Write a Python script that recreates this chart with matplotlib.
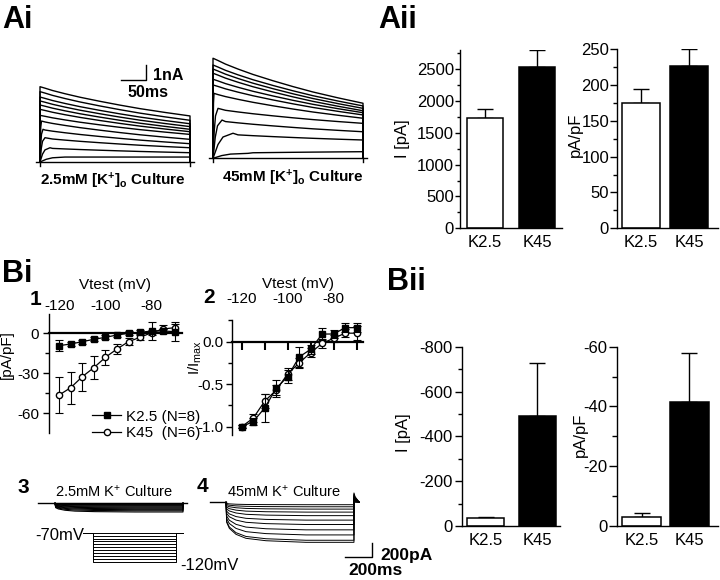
import matplotlib
matplotlib.use("Agg")
import matplotlib.pyplot as plt
from matplotlib.lines import Line2D
from matplotlib.ticker import MultipleLocator, FormatStrFormatter

plt.rcParams['font.family'] = ['Liberation Sans', 'DejaVu Sans']
plt.rcParams['mathtext.fontset'] = 'custom'
plt.rcParams['mathtext.rm'] = 'Liberation Sans'
plt.rcParams['mathtext.bf'] = 'Liberation Sans:bold'
plt.rcParams['mathtext.it'] = 'Liberation Sans:italic'
plt.rcParams['axes.unicode_minus'] = False
plt.rcParams['axes.linewidth'] = 1.0

W, H = 720, 580

# ---- Ai: outward K currents (nA), one entry per trace ----
ai_decay_t = [0, 10, 25, 50, 80, 120, 160, 200, 250, 300]
ai_decay_f = [1, 0.95, 0.87, 0.76, 0.64, 0.5, 0.37, 0.25, 0.12, 0]
rise_s = [0.25, 0.5, 1.0]
rise_f = [0.55, 0.85, 1.0]

k25_peak = [5.02, 4.69, 4.33, 4.07, 3.8, 3.51, 3.11, 2.73, 2.18, 1.62, 0.95, 0.33]
k25_end = [3.07, 2.78, 2.55, 2.36, 2.18, 2.02, 1.84, 1.51, 1.22, 0.95, 0.62, 0.33]
k25_tpeak = [0, 0, 0, 0, 0, 0, 0, 3, 6, 10, 20, 50]

k45_peak = [6.67, 6.22, 5.95, 5.67, 5.27, 4.89, 4.33, 3.33, 2.55, 1.67, 0.33]
k45_end = [3.67, 3.49, 3.33, 3.17, 3.04, 2.89, 2.67, 2.33, 1.77, 1.22, 0.44]
k45_tpeak = [0, 0, 0, 0, 0, 0, 2, 10, 18, 40, 70]

# ---- Aii: peak outward current ----
groups = ['K2.5', 'K45']
ai_current = [1726, 2536]
ai_current_err = [151, 262]
ai_density = [175.4, 227]
ai_density_err = [19.6, 23.4]

# ---- Bi: inward rectifier IV ----
vtest = [-120, -115, -110, -105, -100, -95, -90, -85, -80, -75, -70]
k25_dens = [-9.25, -8, -6.25, -4.5, -3, -1.25, 0, 0.75, 1.75, 1.75, 1.25]
k25_dens_err = [4, 1.5, 1.5, 1.5, 1.5, 1.5, 1.5, 1.5, 7, 1.5, 7]
k45_dens = [-46.25, -40.75, -32.5, -25.75, -18, -11.75, -6.25, -3, 0.5, 3.25, 4.25]
k45_dens_err = [13.75, 12, 10.6, 8.75, 5.75, 4, 2.5, 2, 2, 3, 3]

k25_norm = [-1.0, -0.94, -0.78, -0.55, -0.41, -0.18, -0.09, 0.09, 0.09, 0.165, 0.165]
k25_norm_err = [0.02, 0.04, 0.16, 0.1, 0.08, 0.12, 0.05, 0.07, 0.05, 0.05, 0.05]
k45_norm = [-1.0, -0.9, -0.7, -0.57, -0.38, -0.25, -0.13, -0.02, 0.04, 0.1, 0.1]
k45_norm_err = [0.02, 0.05, 0.08, 0.06, 0.075, 0.06, 0.05, 0.05, 0.04, 0.05, 0.08]

# ---- Bi 3/4: inward currents (pA) during hyperpolarising steps ----
pulse_ms = 960
kir_t = [0, 5, 25, 75, 150, 300, 600, 960]
kir_f = [0, 0.5, 0.65, 0.8, 0.9, 0.96, 1.0, 1.0]
k25_kir_amp = [0, 10, 20, 30, 42, 55, 68, 82, 96, 112, 130]
k45_kir_amp = [36, 67, 102, 147, 200, 267, 333, 413, 489, 569, 600]
k45_tail = [0, 15, 25, 35, 50, 65, 80, 95, 110, 125, 140]
step_mv = [-70, -75, -80, -85, -90, -95, -100, -105, -110, -115, -120]

# ---- Bii: inward current at -120 mV ----
bii_current = [-34, -492]
bii_current_err = [8, 237]
bii_density = [-3.1, -41.4]
bii_density_err = [1.1, 16.4]

fig = plt.figure(figsize=(7.2, 5.8), dpi=100)


def px_axes(x0, y0, x1, y1):
    return fig.add_axes([x0 / W, 1 - y1 / H, (x1 - x0) / W, (y1 - y0) / H])


def pulse_trace(peak, end, tp):
    t = [0.0] + [tp * s for s in rise_s]
    y = [0.0] + [peak * f for f in rise_f]
    for tk, fk in zip(ai_decay_t, ai_decay_f):
        if tk > tp:
            t.append(tk)
            y.append(end + (peak - end) * fk)
    t.append(300.0)
    y.append(0.0)
    return t, y


# Ai traces
for (x0, base, peaks, ends, tps) in [(40, 162, k25_peak, k25_end, k25_tpeak),
                                     (213, 158.3, k45_peak, k45_end, k45_tpeak)]:
    ax = px_axes(x0 - 10, 45, x0 + 160, 175)
    ax.set_xlim(-20, 320)
    ax.set_ylim((base - 175) / 15, (base - 45) / 15)
    ax.axis('off')
    ax.plot([-8, 308], [0, 0], color='black', lw=1.0)
    ax.plot([0, 0], [-0.25, 0], color='black', lw=1.0)
    ax.plot([300, 300], [-0.25, 0], color='black', lw=1.0)
    for p, e, tp in zip(peaks, ends, tps):
        t, y = pulse_trace(p, e, tp)
        ax.plot(t, y, color='black', lw=1.0)
    if x0 == 40:
        ax.plot([162, 212, 212], [5.47, 5.47, 6.47], color='black', lw=1.0)

# Aii and Bii bar charts
def bar_panel(box, vals, errs, ylim, major, minor, ylabel, lab_xy, width, xlim,
              inverted, tick_len, pad):
    ax = px_axes(*box)
    ax.bar([0, 1], vals, width=width, color=['white', 'black'], edgecolor='black',
           linewidth=1.1, zorder=2)
    if inverted:
        yerr = [errs, [0, 0]]
    else:
        yerr = [[0, 0], errs]
    ax.errorbar([0, 1], vals, yerr=yerr, fmt='none', ecolor='black', elinewidth=1.0,
                capsize=6, capthick=1.0, zorder=1)
    ax.set_xlim(*xlim)
    ax.set_ylim(*ylim)
    ax.yaxis.set_major_locator(MultipleLocator(major))
    ax.yaxis.set_minor_locator(MultipleLocator(minor))
    ax.set_xticks([0, 1])
    ax.set_xticklabels(groups)
    ax.spines['top'].set_visible(False)
    ax.spines['right'].set_visible(False)
    ax.tick_params(axis='x', length=0, labelsize=12, pad=5)
    ax.tick_params(axis='y', which='major', length=tick_len, width=1.0, labelsize=12, pad=pad)
    ax.tick_params(axis='y', which='minor', length=tick_len * 0.6, width=1.0)
    ax.set_ylabel(ylabel, fontsize=12, va='center')
    ax.yaxis.set_label_coords(*lab_xy)
    return ax


bar_panel((460, 50, 562, 228.3), ai_current, ai_current_err, (0, 2800), 500, 250,
          'I [pA]', (-0.56, 0.5), 0.7, (-0.48, 1.48), False, 3.8, 0.5)
bar_panel((616.7, 49.3, 718, 228.3), ai_density, ai_density_err, (0, 250), 50, 25,
          'pA/pF', (-0.41, 0.52), 0.8, (-0.5, 1.6), False, 5, 0.5)
bar_panel((461.7, 346.7, 560, 526), bii_current, bii_current_err, (0, -800), 200, 100,
          'I [pA]', (-0.587, 0.52), 0.72, (-0.47, 1.44), True, 4.8, 2)
bar_panel((616.7, 346.7, 718, 526), bii_density, bii_density_err, (0, -60), 20, 10,
          'pA/pF', (-0.36, 0.51), 0.82, (-0.52, 1.6), True, 5.5, 1)


# Bi IV plots
def iv_panel(box, xlim, ylim, k25, k25e, k45, k45e, major, minor, fmt, ylabel, lab_xy,
             xtick_len, top_pad, vlab_pad, ytick_pad):
    ax = px_axes(*box)
    ax.errorbar(vtest, k45, yerr=k45e, fmt='-o', color='black', mfc='white', mec='black',
                ms=4.5, lw=0.9, elinewidth=0.8, capsize=3.2, capthick=0.8, zorder=3)
    ax.errorbar(vtest, k25, yerr=k25e, fmt='-s', color='black', mfc='black', mec='black',
                ms=4.3, lw=0.9, elinewidth=0.8, capsize=3.2, capthick=0.8, zorder=4)
    ax.set_xlim(*xlim)
    ax.set_ylim(*ylim)
    ax.spines['top'].set_visible(False)
    ax.spines['right'].set_visible(False)
    ax.spines['bottom'].set_position(('data', 0))
    ax.spines['bottom'].set_linewidth(1.6)
    ax.set_xticks([-120, -110, -100, -90, -80, -70])
    ax.tick_params(axis='x', direction='out', length=xtick_len, width=1.5, labelbottom=False)
    ax.yaxis.set_major_locator(MultipleLocator(major))
    ax.yaxis.set_minor_locator(MultipleLocator(minor))
    ax.yaxis.set_major_formatter(FormatStrFormatter(fmt))
    ax.tick_params(axis='y', which='major', length=4.5, width=1.0, labelsize=11, pad=ytick_pad)
    ax.tick_params(axis='y', which='minor', length=3.2, width=1.0)
    ax.set_ylabel(ylabel, fontsize=11, va='center')
    ax.yaxis.set_label_coords(*lab_xy)
    sec = ax.secondary_xaxis('top')
    sec.set_xticks([-120, -100, -80])
    sec.spines['top'].set_visible(False)
    sec.tick_params(length=0, labelsize=11, pad=top_pad)
    sec.set_xlabel('Vtest (mV)', fontsize=11, labelpad=vlab_pad)
    return ax


ax1 = iv_panel((49.3, 314, 181.7, 433), (-124.3, -67), (-74.8, 14.5), k25_dens, k25_dens_err,
               k45_dens, k45_dens_err, 30, 15, '%d', '[pA/pF]', (-0.32, 0.66), 0, 1,
               7, 3)
iv_panel((231.7, 320, 363.3, 435), (-124.35, -67.1), (-1.098, 0.255), k25_norm, k25_norm_err,
         k45_norm, k45_norm_err, 0.5, 0.25, '%.1f', r'I/I$_{\mathrm{max}}$', (-0.28, 0.67), 6,
         10, 3, 1.5)

handles = [Line2D([], [], color='black', marker='s', mfc='black', ms=4.3, lw=0.9),
           Line2D([], [], color='black', marker='o', mfc='white', ms=4.5, lw=0.9)]
ax1.legend(handles, ['K2.5 (N=8)', 'K45  (N=6)'], loc='lower left',
           bbox_to_anchor=(92 / W, 1 - 440 / H), bbox_transform=fig.transFigure,
           frameon=False, fontsize=11, handlelength=1.9, handletextpad=0.3,
           labelspacing=0.15, borderpad=0, borderaxespad=0)

# Bi 3: 2.5 mM inward currents
ax3 = px_axes(30, 480, 195, 520)
ax3.set_xlim(-187.5, 1050)
ax3.set_ylim(-250, 349)
ax3.axis('off')
ax3.plot([-127, 990], [0, 0], color='black', lw=1.0)
for a in k25_kir_amp:
    ax3.plot([0] + kir_t + [pulse_ms], [0] + [-a * f for f in kir_f] + [0], color='black', lw=0.8)

# step protocol
axp = px_axes(80, 525, 190, 568)
axp.set_xlim(-150.4, 1121.9)
axp.set_ylim(-130.9, -56.7)
axp.axis('off')
for v in step_mv:
    axp.plot([-116, 0, 0, pulse_ms, pulse_ms, 1041], [-70, -70, v, v, -70, -70],
             color='black', lw=0.7)

# Bi 4: 45 mM inward currents
ax4 = px_axes(200, 470, 380, 565)
ax4.set_xlim(-195, 1155.3)
ax4.set_ylim(-940, 484.3)
ax4.axis('off')
ax4.plot([-120, 0], [0, 0], color='black', lw=1.0)
for a, tail in zip(k45_kir_amp, k45_tail):
    ax4.plot(kir_t + [pulse_ms, pulse_ms + 8, pulse_ms + 40],
             [-a * f for f in kir_f] + [tail, tail * 0.6, 0], color='black', lw=0.7)
ax4.plot([892.7, 1093, 1093], [-815.6, -815.6, -615.6], color='black', lw=1.0)

# text overlay in pixel coordinates
ov = px_axes(0, 0, W, H)
ov.set_xlim(0, W)
ov.set_ylim(H, 0)
ov.axis('off')
big = dict(fontsize=22, fontweight='bold', va='baseline', ha='left')
ov.text(2, 28, 'Ai', **big)
ov.text(378, 28, 'Aii', **big)
ov.text(2, 282, 'Bi', **big)
ov.text(387, 290, 'Bii', **big)
num = dict(fontsize=15, fontweight='bold', va='baseline', ha='left')
ov.text(30, 305, '1', **num)
ov.text(203, 303, '2', **num)
ov.text(17, 493, '3', **num)
ov.text(197, 492, '4', **num)

ov.text(112.5, 185, r'2.5mM [K$^{\mathbf{+}}$]$_{\mathbf{o}}$ Culture', fontsize=11,
        fontweight='bold', ha='center', va='baseline')
ov.text(293, 182, r'45mM [K$^{\mathbf{+}}$]$_{\mathbf{o}}$ Culture', fontsize=11,
        fontweight='bold', ha='center', va='baseline')
ov.text(153, 80, '1nA', fontsize=11.5, fontweight='bold', ha='left', va='baseline')
ov.text(147.5, 97, '50ms', fontsize=11.5, fontweight='bold', ha='center', va='baseline')

ov.text(114, 497, r'2.5mM K$^{+}$ Culture', fontsize=10.5, ha='center', va='baseline')
ov.text(284, 497, r'45mM K$^{+}$ Culture', fontsize=10.5, ha='center', va='baseline')
ov.text(35, 540, '-70mV', fontsize=12, ha='left', va='baseline')
ov.text(180, 570, '-120mV', fontsize=12, ha='left', va='baseline')
ov.text(380, 560, '200pA', fontsize=12.5, fontweight='bold', ha='left', va='baseline')
ov.text(348, 575, '200ms', fontsize=12.5, fontweight='bold', ha='left', va='baseline')

fig.savefig('out.png', dpi=100)
